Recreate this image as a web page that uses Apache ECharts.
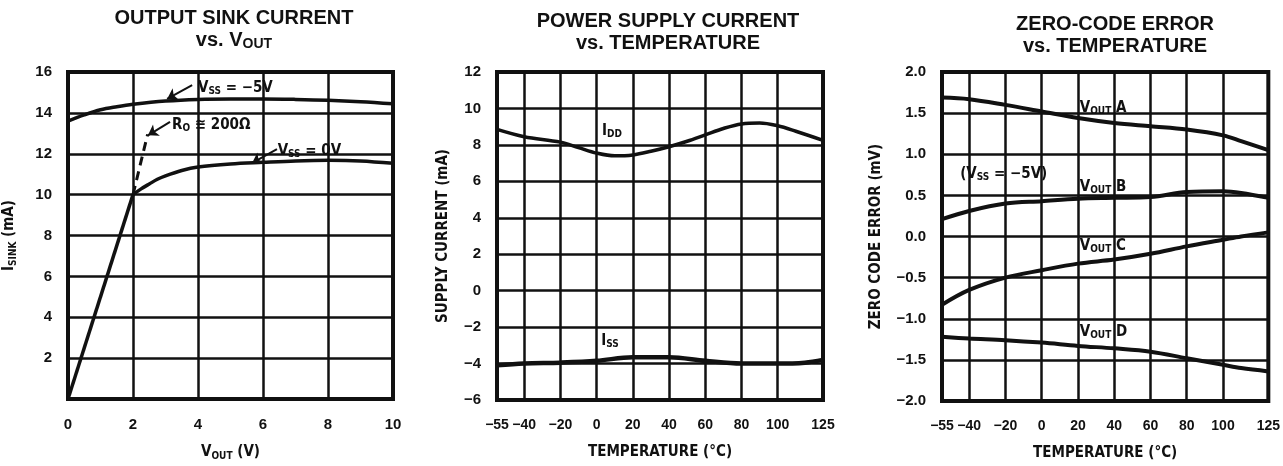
<!DOCTYPE html>
<html>
<head>
<meta charset="utf-8">
<script src="https://cdn.jsdelivr.net/npm/echarts@6/dist/echarts.min.js"></script>
<style>
  html, body { margin: 0; padding: 0; background: #fff; }
  #chart { width: 1283px; height: 466px; }
</style>
</head>
<body>
<div id="chart"></div>
<script>
const F = "'Liberation Sans Narrow', 'DejaVu Sans Condensed', sans-serif";
const NUM = "'Liberation Sans', Arial, sans-serif";
const INK = '#111';

// --- output sink current vs Vout
const voutTicks = [0, 2, 4, 6, 8, 10];
const sinkTicks = [0, 2, 4, 6, 8, 10, 12, 14, 16];
const vssNeg5X = [0, 0.5, 1, 1.5, 2, 3, 4, 5, 6, 7, 8, 9, 10];
const vssNeg5Y = [13.6, 13.9, 14.15, 14.3, 14.42, 14.58, 14.66, 14.68, 14.68, 14.66, 14.62, 14.55, 14.45];
const rampX = [0, 2];
const rampY = [0, 10];
const vss0X = [2, 2.25, 2.5, 2.75, 3, 3.5, 4, 5, 6, 7, 8, 9, 10];
const vss0Y = [10, 10.28, 10.52, 10.75, 10.92, 11.18, 11.35, 11.5, 11.58, 11.65, 11.68, 11.65, 11.53];
const roX = [2, 2.45];
const roY = [10, 12.95];

// --- power supply current vs temperature
const tempTicks = [-55, -40, -20, 0, 20, 40, 60, 80, 100, 125];
const supplyTicks = [-6, -4, -2, 0, 2, 4, 6, 8, 10, 12];
const iddT = [-55, -40, -20, -10, 0, 10, 20, 30, 40, 50, 60, 70, 80, 90, 100, 110, 125];
const iddY = [8.85, 8.45, 8.15, 7.85, 7.55, 7.4, 7.45, 7.65, 7.9, 8.2, 8.55, 8.9, 9.15, 9.2, 9.05, 8.75, 8.25];
const issT = [-55, -40, -20, 0, 20, 40, 60, 80, 100, 115, 125];
const issY = [-4.1, -4.0, -3.95, -3.85, -3.65, -3.65, -3.85, -4.0, -4.0, -3.95, -3.8];

// --- zero-code error vs temperature
const errTicks = [-2, -1.5, -1, -0.5, 0, 0.5, 1, 1.5, 2];
const errT = [-55, -40, -20, 0, 20, 40, 60, 80, 100, 110, 125];
const voutA = [1.69, 1.67, 1.6, 1.52, 1.44, 1.38, 1.34, 1.3, 1.23, 1.16, 1.05];
const voutB = [0.21, 0.31, 0.4, 0.43, 0.46, 0.47, 0.48, 0.54, 0.55, 0.53, 0.47];
const voutC = [-0.83, -0.65, -0.5, -0.41, -0.33, -0.28, -0.21, -0.12, -0.04, 0.0, 0.05];
const voutD = [-1.22, -1.24, -1.26, -1.29, -1.33, -1.36, -1.4, -1.48, -1.56, -1.6, -1.64];

const zip = (xs, ys) => xs.map((x, i) => [x, ys[i]]);
const minus = v => String(v).replace('-', '\u2212');

const RICH = {
  m: { fontFamily: F, fontWeight: 'bold', fontSize: 15, color: INK },
  s: { fontFamily: F, fontWeight: 'bold', fontSize: 10, color: INK, padding: [7, 0, 0, 0] }
};

const tickLabel = {
  color: INK, fontFamily: NUM, fontWeight: 'bold', fontSize: 15,
  showMinLabel: true, showMaxLabel: true, hideOverlap: false
};

function xAxis(grid, ticks, name, extra) {
  return Object.assign({
    type: 'value', gridIndex: grid,
    min: ticks[0], max: ticks[ticks.length - 1],
    name: name, nameLocation: 'middle', nameGap: 45,
    nameTextStyle: { rich: RICH },
    axisLine: { show: false }, axisTick: { show: false },
    axisLabel: Object.assign({ margin: 18 }, tickLabel),
    splitLine: { show: true, lineStyle: { color: INK, width: 2.5 } }
  }, extra);
}

function yAxis(grid, ticks, name, gap, fmt, extra) {
  return Object.assign({
    type: 'value', gridIndex: grid,
    min: ticks[0], max: ticks[ticks.length - 1], interval: ticks[1] - ticks[0],
    name: name, nameLocation: 'middle', nameRotate: 90, nameGap: gap,
    nameTextStyle: { rich: RICH },
    axisLine: { show: false }, axisTick: { show: false },
    axisLabel: Object.assign({ margin: 16, formatter: fmt }, tickLabel),
    splitLine: { show: true, lineStyle: { color: INK, width: 2.5 } }
  }, extra);
}

function curve(grid, xs, ys, extra) {
  return Object.assign({
    type: 'line', xAxisIndex: grid, yAxisIndex: grid,
    data: zip(xs, ys), smooth: 0.35, symbol: 'none', silent: true,
    lineStyle: { color: INK, width: 3.5 }
  }, extra);
}

function tag(x, y, text) {
  return { coord: [x, y], name: text };
}

function tags(items) {
  return {
    silent: true, symbol: 'circle', symbolSize: 0,
    label: { show: true, position: 'right', distance: 0, formatter: p => p.name, rich: RICH },
    data: items
  };
}

function arrow(x1, y1, x2, y2) {
  return [{ coord: [x1, y1] }, { coord: [x2, y2] }];
}

const chart = echarts.init(document.getElementById('chart'));

const titleStyle = {
  rich: {
    t: { fontFamily: NUM, fontWeight: 'bold', fontSize: 20, color: INK, lineHeight: 22 },
    u: { fontFamily: NUM, fontWeight: 'bold', fontSize: 14, color: INK, lineHeight: 22, padding: [8, 0, 0, 0] }
  }
};

// temperature axes: ticks at -55, -40 ... 100, 125 (not evenly spaced at the ends)
const tempAxisExtra = {
  axisTick: { show: false, customValues: tempTicks },
  axisLabel: Object.assign({ margin: 18, customValues: tempTicks, formatter: minus }, tickLabel, { fontSize: 14 })
};

chart.setOption({
  animation: false,
  backgroundColor: '#fff',
  title: [
    { text: '{t|OUTPUT SINK CURRENT}\n{t|vs. V}{u|OUT}', left: 229, top: 2, textAlign: 'center', textStyle: titleStyle },
    { text: '{t|POWER SUPPLY CURRENT}\n{t|vs. TEMPERATURE}', left: 663, top: 5, textAlign: 'center', textStyle: titleStyle },
    { text: '{t|ZERO-CODE ERROR}\n{t|vs. TEMPERATURE}', left: 1110, top: 8, textAlign: 'center', textStyle: titleStyle }
  ],
  grid: [
    { left: 68, top: 72, width: 325, height: 327, show: true, borderColor: INK, borderWidth: 4, backgroundColor: '#fff' },
    { left: 497, top: 72, width: 326, height: 328, show: true, borderColor: INK, borderWidth: 4, backgroundColor: '#fff' },
    { left: 942, top: 72, width: 330, height: 330, show: true, borderColor: INK, borderWidth: 4, backgroundColor: '#fff' }
  ],
  xAxis: [
    xAxis(0, voutTicks, '{m|V}{s|OUT}{m| (V)}', { interval: voutTicks[1] - voutTicks[0] }),
    xAxis(1, tempTicks, '{m|TEMPERATURE (\u00B0C)}', tempAxisExtra),
    xAxis(2, tempTicks, '{m|TEMPERATURE (\u00B0C)}', tempAxisExtra)
  ],
  yAxis: [
    yAxis(0, sinkTicks, '{m|I}{s|SINK}{m| (mA)}', 50, v => (v === 0 ? '' : String(v))),
    yAxis(1, supplyTicks, '{m|SUPPLY CURRENT (mA)}', 46, minus),
    yAxis(2, errTicks, '{m|ZERO CODE ERROR (mV)}', 58, v => minus(v.toFixed(1)))
  ],
  series: [
    curve(0, vssNeg5X, vssNeg5Y, {
      markLine: {
        silent: true, symbol: ['none', 'arrow'], symbolSize: 10,
        lineStyle: { color: INK, width: 2, type: 'solid' }, label: { show: false },
        data: [arrow(3.82, 15.36, 3.05, 14.68), arrow(3.14, 13.56, 2.46, 12.9), arrow(6.43, 12.23, 5.66, 11.54)]
      },
      markPoint: tags([
        tag(4.0, 15.2, '{m|V}{s|SS}{m| = \u22125V}'),
        tag(3.2, 13.4, '{m|R}{s|O}{m| \u2245 200\u03A9}'),
        tag(6.45, 12.15, '{m|V}{s|SS}{m| = 0V}')
      ])
    }),
    curve(0, rampX, rampY, { smooth: false }),
    curve(0, vss0X, vss0Y),
    curve(0, roX, roY, { smooth: false, lineStyle: { color: INK, width: 3, type: [9, 6] } }),

    curve(1, iddT, iddY, {
      markPoint: tags([tag(3, 8.75, '{m|I}{s|DD}'), tag(2.5, -2.75, '{m|I}{s|SS}')])
    }),
    curve(1, issT, issY, { lineStyle: { color: INK, width: 4.5 } }),

    curve(2, errT, voutA, {
      lineStyle: { color: INK, width: 4 },
      markPoint: tags([
        tag(21, 1.56, '{m|V}{s|OUT}{m| A}'),
        tag(21, 0.6, '{m|V}{s|OUT}{m| B}'),
        tag(21, -0.12, '{m|V}{s|OUT}{m| C}'),
        tag(21, -1.16, '{m|V}{s|OUT}{m| D}'),
        tag(-45, 0.76, '{m|(V}{s|SS}{m| = \u22125V)}')
      ])
    }),
    curve(2, errT, voutB, { lineStyle: { color: INK, width: 4 } }),
    curve(2, errT, voutC, { lineStyle: { color: INK, width: 4 } }),
    curve(2, errT, voutD, { lineStyle: { color: INK, width: 4 } })
  ]
});
</script>
</body>
</html>
